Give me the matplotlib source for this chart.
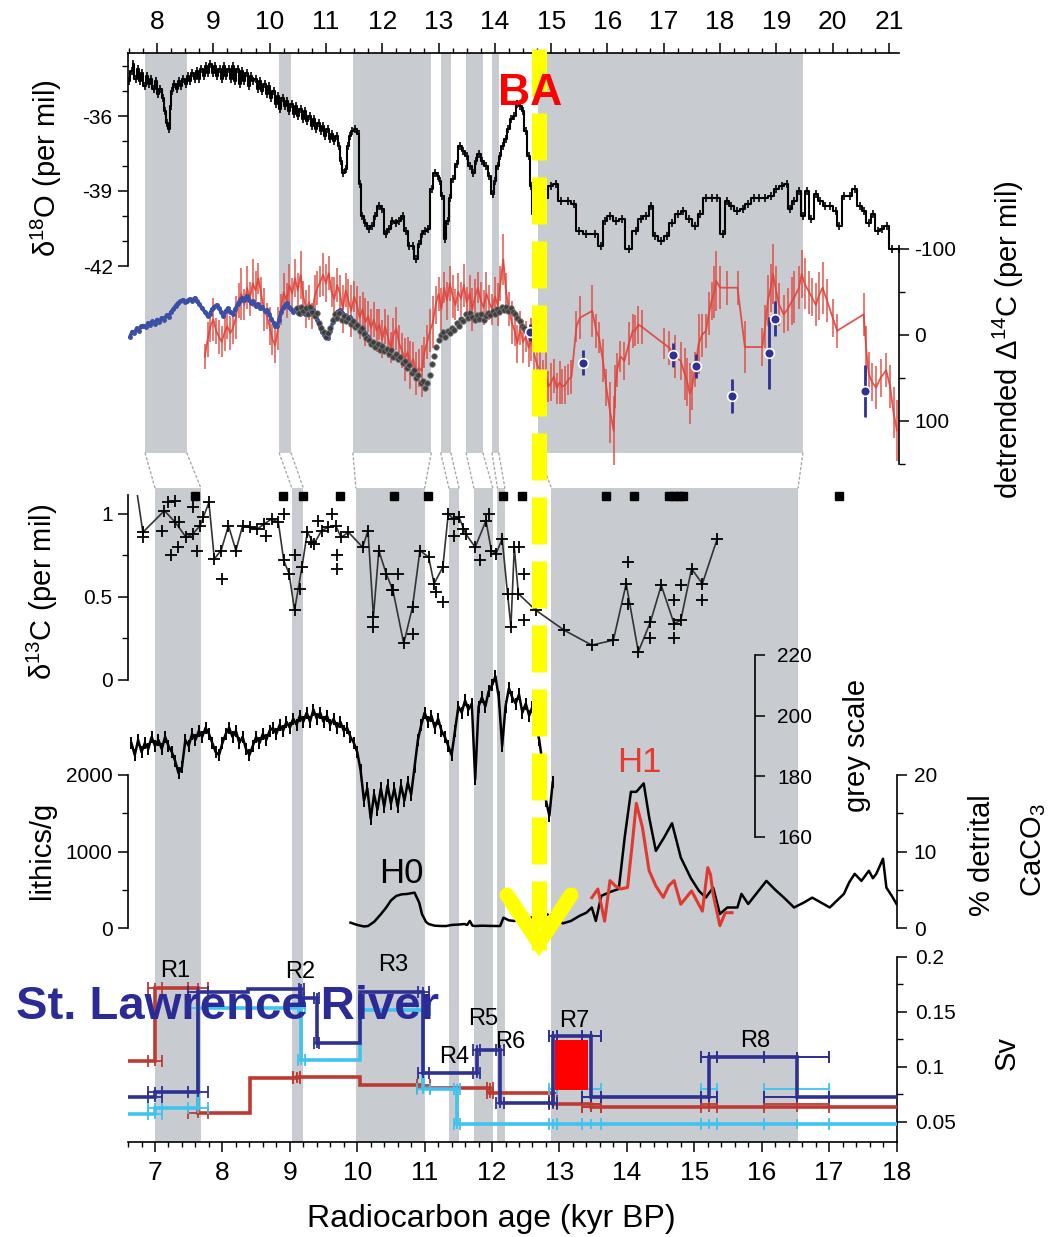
import numpy as np
import matplotlib
matplotlib.use("Agg")
import matplotlib.pyplot as plt
from matplotlib.lines import Line2D
from matplotlib.patches import Rectangle, ConnectionPatch
from matplotlib.ticker import FixedLocator, MultipleLocator, FixedFormatter

plt.rcParams["font.family"] = ["Liberation Sans", "DejaVu Sans"]
plt.rcParams["axes.unicode_minus"] = False
plt.rcParams["lines.scale_dashes"] = False
plt.rcParams["mathtext.default"] = "regular"

# ---------------------------------------------------------------- data
# shaded intervals: calendar age (upper panels) and radiocarbon age (lower panels)
cal_band_start = [7.79, 10.17, 11.48, 13.04, 13.49, 13.95, 14.77]
cal_band_end = [8.53, 10.38, 12.87, 13.22, 13.79, 14.07, 19.47]
rc_band_start = [7.00, 9.03, 9.98, 11.36, 11.73, 12.08, 12.88]
rc_band_end = [7.68, 9.20, 11.00, 11.51, 12.01, 12.19, 16.54]

cal_ticks = [8, 9, 10, 11, 12, 13, 14, 15, 16, 17, 18, 19, 20, 21]
rc_ticks = [7, 8, 9, 10, 11, 12, 13, 14, 15, 16, 17, 18]

# Greenland ice core d18O (per mil), calendar age (kyr)
d18o_age = [7.50, 7.55, 7.58, 7.62, 7.66, 7.70, 7.74, 7.78, 7.82, 7.86,
            7.90, 7.94, 7.98, 8.02, 8.06, 8.10, 8.14, 8.18, 8.21, 8.24,
            8.27, 8.31, 8.35, 8.39, 8.43, 8.47, 8.51, 8.55, 8.59, 8.63,
            8.67, 8.71, 8.75, 8.79, 8.83, 8.87, 8.91, 8.95, 8.99, 9.03,
            9.07, 9.11, 9.15, 9.19, 9.23, 9.27, 9.31, 9.35, 9.39, 9.43,
            9.47, 9.51, 9.55, 9.59, 9.63, 9.67, 9.71, 9.75, 9.79, 9.83,
            9.87, 9.91, 9.95, 9.99, 10.03, 10.07, 10.11, 10.15, 10.19, 10.23,
            10.27, 10.31, 10.35, 10.39, 10.43, 10.47, 10.51, 10.55, 10.59, 10.63,
            10.67, 10.71, 10.75, 10.79, 10.83, 10.87, 10.91, 10.95, 10.99, 11.03,
            11.07, 11.11, 11.15, 11.19, 11.23, 11.27, 11.31, 11.35, 11.39, 11.43,
            11.47, 11.52, 11.58, 11.60, 11.64, 11.70, 11.76, 11.82, 11.88, 11.94,
            12.00, 12.06, 12.12, 12.18, 12.24, 12.30, 12.36, 12.42, 12.48, 12.54,
            12.60, 12.66, 12.70, 12.76, 12.82, 12.88, 12.94, 12.99, 13.03, 13.07,
            13.12, 13.16, 13.20, 13.26, 13.32, 13.38, 13.44, 13.50, 13.56, 13.62,
            13.66, 13.72, 13.78, 13.84, 13.90, 13.96, 14.00, 14.05, 14.09, 14.14,
            14.19, 14.24, 14.29, 14.34, 14.40, 14.45, 14.50, 14.55, 14.60, 14.64,
            14.68, 14.75, 14.90, 15.00, 15.08, 15.18, 15.30, 15.40, 15.50, 15.62,
            15.78, 15.88, 15.95, 16.05, 16.15, 16.25, 16.38, 16.50, 16.60, 16.68,
            16.78, 16.85, 16.95, 17.05, 17.15, 17.25, 17.35, 17.45, 17.55, 17.65,
            17.75, 17.85, 17.95, 18.05, 18.12, 18.20, 18.30, 18.40, 18.50, 18.60,
            18.70, 18.80, 18.90, 19.00, 19.10, 19.18, 19.25, 19.32, 19.40, 19.48,
            19.55, 19.62, 19.70, 19.78, 19.86, 19.95, 20.05, 20.12, 20.20, 20.30,
            20.40, 20.48, 20.56, 20.64, 20.72, 20.80, 20.88, 20.96, 21.05, 21.17]
d18o = [-34.6, -34.2, -33.9, -34.5, -34.1, -34.6, -34.3, -34.8, -34.4, -34.7,
        -34.5, -34.9, -34.6, -35.1, -34.9, -35.3, -35.8, -36.3, -36.5, -35.6,
        -35.0, -34.7, -34.9, -34.6, -34.8, -34.5, -34.7, -34.4, -34.6, -34.3,
        -34.5, -34.2, -34.5, -34.1, -34.4, -34.0, -34.3, -33.9, -34.3, -34.0,
        -34.4, -34.1, -34.5, -34.0, -34.4, -34.1, -34.5, -34.0, -34.6, -34.1,
        -34.7, -34.2, -34.6, -34.3, -34.8, -34.4, -34.6, -34.5, -34.9, -34.6,
        -35.0, -34.7, -35.1, -34.8, -35.3, -35.0, -35.5, -35.2, -35.7, -35.3,
        -35.6, -35.4, -35.8, -35.5, -35.9, -35.6, -36.0, -35.7, -36.1, -35.8,
        -36.2, -36.0, -36.4, -36.1, -36.5, -36.3, -36.6, -36.4, -36.8, -36.5,
        -36.9, -36.7, -37.0, -36.8, -37.2, -37.8, -38.3, -38.1, -37.2, -36.8,
        -36.6, -36.5, -36.7, -38.7, -40.0, -40.3, -40.5, -40.4, -40.0, -39.6,
        -39.7, -40.7, -40.5, -40.2, -40.3, -40.2, -40.0, -40.6, -41.2, -41.2,
        -41.7, -41.1, -40.7, -40.6, -40.5, -38.9, -38.3, -38.4, -38.6, -39.2,
        -40.9, -40.2, -39.3, -38.5, -37.9, -37.2, -37.4, -37.6, -38.0, -38.3,
        -37.8, -37.5, -37.8, -38.0, -38.4, -39.1, -38.6, -38.0, -37.6, -37.2,
        -36.9, -36.5, -36.1, -36.0, -35.5, -35.6, -35.8, -36.6, -37.6, -38.8,
        -39.9, -39.8, -39.3, -38.8, -38.7, -39.4, -39.4, -39.5, -40.6, -40.7,
        -40.7, -41.2, -40.2, -40.0, -40.2, -40.1, -41.3, -40.6, -40.1, -40.0,
        -39.6, -40.8, -41.0, -40.8, -40.3, -39.9, -39.8, -40.1, -40.4, -39.9,
        -39.3, -39.3, -39.3, -40.7, -39.4, -39.6, -39.8, -39.7, -39.5, -39.3,
        -39.3, -39.3, -39.2, -38.9, -38.8, -38.7, -39.7, -39.4, -39.0, -40.0,
        -39.0, -40.1, -39.1, -39.4, -39.6, -39.6, -39.8, -40.4, -39.2, -39.2,
        -38.9, -39.6, -39.8, -40.3, -39.9, -40.6, -40.5, -40.4, -41.3, -41.3]

# detrended D14C (per mil): Cariaco / coral record (red) with 1-sigma errors
c14_age = [8.85, 8.90, 8.95, 9.00, 9.05, 9.10, 9.15, 9.20, 9.25, 9.30,
           9.35, 9.40, 9.45, 9.50, 9.55, 9.60, 9.65, 9.70, 9.75, 9.80,
           9.85, 9.90, 9.95, 10.00, 10.05, 10.10, 10.15, 10.20, 10.25, 10.30,
           10.35, 10.40, 10.45, 10.50, 10.55, 10.60, 10.65, 10.70, 10.75, 10.80,
           10.85, 10.90, 10.95, 11.00, 11.05, 11.10, 11.15, 11.20, 11.25, 11.30,
           11.35, 11.40, 11.45, 11.50, 11.55, 11.60, 11.65, 11.70, 11.75, 11.80,
           11.85, 11.90, 11.95, 12.00, 12.05, 12.10, 12.15, 12.20, 12.25, 12.30,
           12.35, 12.40, 12.45, 12.50, 12.55, 12.60, 12.65, 12.70, 12.75, 12.80,
           12.85, 12.90, 12.95, 13.00, 13.05, 13.10, 13.15, 13.20, 13.25, 13.30,
           13.35, 13.40, 13.45, 13.50, 13.55, 13.60, 13.65, 13.70, 13.75, 13.80,
           13.85, 13.90, 13.95, 14.00, 14.05, 14.10, 14.15, 14.20, 14.25, 14.30,
           14.35, 14.40, 14.45, 14.50, 14.55, 14.60, 14.65, 14.70, 14.75, 14.80,
           14.85, 14.90, 14.95, 15.00, 15.05, 15.10, 15.15, 15.20, 15.25, 15.30,
           15.36, 15.45, 15.51, 15.73, 15.80, 15.85, 15.92, 15.98, 16.05, 16.11,
           16.14, 16.17, 16.23, 16.30, 16.38, 16.45, 16.49, 16.55, 16.62, 17.00,
           17.10, 17.20, 17.30, 17.37, 17.42, 17.46, 17.50, 17.55, 17.62, 17.68,
           17.75, 17.80, 17.85, 17.90, 17.93, 18.00, 18.12, 18.31, 18.44, 18.75,
           18.80, 18.85, 18.90, 18.94, 19.00, 19.05, 19.13, 19.20, 19.28, 19.32,
           19.40, 19.45, 19.50, 19.58, 19.63, 19.70, 19.75, 19.82, 19.90, 20.00,
           20.08, 20.55, 20.60, 20.64, 20.70, 20.77, 20.85, 20.95, 21.02, 21.08,
           21.14]
c14 = [25, 5, -10, -18, -5, 2, 8, -3, -10, -2,
       -8, -20, -40, -48, -35, -55, -42, -60, -52, -66,
       -48, -30, -22, -10, 5, 12, -8, -30, -50, -40,
       -58, -48, -66, -52, -70, -45, -30, -38, -22, -45,
       -55, -62, -70, -60, -72, -50, -42, -58, -48, -30,
       -52, -40, -28, -45, -35, -20, -30, -15, -22, -8,
       -18, -5, -12, 5, -10, 2, 15, 0, -8, 10,
       18, 28, 20, 35, 28, 45, 38, 42, 20, 8,
       -5, -15, -35, -48, -30, -55, -40, -60, -45, -35,
       -50, -42, -58, -38, -48, -30, -45, -55, -40, -32,
       -48, -38, -30, -45, -35, -60, -88, -50, -30, -15,
       -5, 10, -8, 8, 2, 15, 5, 22, 35, 40,
       49, 45, 60, 55, 48, 62, 55, 60, 58, 52,
       49, -10, -20, -28, -5, 3, 30, 61, 90, 111,
       60, 41, 25, 30, 10, -5, -5, -12, -9, 10,
       15, 25, 30, 45, 55, 68, 62, 40, 10, 0,
       -5, -25, -40, -50, -63, -55, -55, -55, 14, 14,
       -10, -40, -55, -71, -50, -35, -24, -30, -40, -44,
       -55, -71, -60, -50, -44, -35, -45, -55, -40, -20,
       -5, -24, 20, 45, 55, 61, 50, 41, 60, 90,
       111]
c14_err = [15, 20, 18, 25, 15, 20, 18, 22, 15, 20,
           18, 25, 20, 30, 18, 25, 20, 28, 22, 18,
           20, 25, 15, 22, 18, 20, 25, 18, 22, 20,
           25, 18, 22, 20, 28, 18, 22, 20, 15, 25,
           20, 18, 25, 22, 20, 18, 25, 20, 22, 28,
           20, 25, 30, 18, 22, 25, 20, 28, 18, 22,
           20, 25, 18, 22, 20, 25, 18, 20, 25, 22,
           20, 25, 18, 28, 20, 25, 22, 30, 18, 20,
           25, 30, 22, 20, 25, 18, 22, 20, 25, 18,
           22, 20, 25, 18, 22, 25, 20, 18, 22, 20,
           25, 20, 18, 22, 25, 20, 30, 22, 20, 25,
           18, 22, 20, 25, 18, 22, 25, 20, 18, 22,
           20, 25, 18, 22, 20, 18, 25, 20, 22, 18,
           20, 18, 25, 30, 20, 18, 25, 22, 35, 40,
           25, 20, 18, 22, 25, 20, 18, 22, 20, 18,
           20, 25, 22, 30, 28, 35, 25, 20, 35, 25,
           20, 25, 22, 30, 35, 25, 20, 20, 30, 22,
           25, 30, 28, 35, 30, 25, 22, 25, 28, 30,
           25, 28, 30, 25, 22, 25, 28, 30, 25, 22,
           20, 25, 30, 25, 22, 25, 22, 20, 25, 30,
           35]

# tree-ring D14C (blue line)
tree_age = [7.52, 7.56, 7.60, 7.64, 7.68, 7.72, 7.76, 7.80, 7.84, 7.88,
            7.92, 7.96, 8.00, 8.04, 8.08, 8.12, 8.17, 8.21, 8.25, 8.29,
            8.33, 8.37, 8.41, 8.46, 8.50, 8.54, 8.58, 8.62, 8.67, 8.71,
            8.75, 8.80, 8.85, 8.90, 8.94, 8.98, 9.02, 9.06, 9.10, 9.14,
            9.18, 9.22, 9.26, 9.30, 9.35, 9.39, 9.43, 9.47, 9.51, 9.55,
            9.59, 9.63, 9.67, 9.71, 9.75, 9.79, 9.83, 9.87, 9.91, 9.95,
            9.99, 10.03, 10.07, 10.10, 10.13, 10.17, 10.21, 10.25, 10.30, 10.34,
            10.38, 10.42, 10.46, 10.50, 10.54, 10.58, 10.62, 10.66, 10.70, 10.74,
            10.77, 10.81, 10.85, 10.89, 10.93, 10.97, 11.01, 11.04, 11.08, 11.12,
            11.16, 11.20, 11.25, 11.29, 11.33, 11.38, 11.43, 11.47, 11.52, 11.57,
            11.62, 11.66, 11.70, 11.75, 11.81]
tree_c14 = [2, -4, -2, -8, -5, -10, -11, -9, -14, -12,
            -16, -13, -18, -15, -20, -18, -23, -21, -27, -30,
            -34, -37, -39, -41, -38, -40, -42, -40, -43, -39,
            -36, -31, -27, -22, -25, -30, -33, -35, -31, -27,
            -22, -28, -31, -27, -25, -30, -36, -40, -43, -41,
            -45, -41, -37, -39, -34, -36, -31, -33, -28, -29,
            -24, -19, -14, -11, -10, -18, -27, -33, -37, -33,
            -30, -27, -30, -26, -25, -28, -24, -30, -27, -31,
            -29, -24, -18, -10, -4, 0, 2, 4, -5, -15,
            -22, -27, -29, -26, -23, -21, -21, -17, -14, -10,
            -8, -6, -2, 2, 8]

# floating tree-ring / varve D14C (dark grey dots)
float_age = [10.48, 10.52, 10.56, 10.60, 10.64, 10.68, 10.72, 10.76, 10.80, 10.84,
             10.88, 10.92, 10.96, 11.00, 11.04, 11.08, 11.12, 11.16, 11.20, 11.24,
             11.28, 11.32, 11.36, 11.40, 11.44, 11.48, 11.52, 11.56, 11.60, 11.64,
             11.68, 11.72, 11.76, 11.80, 11.84, 11.88, 11.92, 11.96, 12.00, 12.04,
             12.08, 12.12, 12.16, 12.20, 12.24, 12.28, 12.32, 12.36, 12.40, 12.44,
             12.48, 12.52, 12.56, 12.60, 12.64, 12.68, 12.72, 12.76, 12.80, 12.84,
             12.88, 12.92, 12.96, 13.00, 13.04, 13.08, 13.12, 13.16, 13.20, 13.24,
             13.28, 13.32, 13.36, 13.40, 13.44, 13.48, 13.52, 13.56, 13.60, 13.64,
             13.68, 13.72, 13.76, 13.80, 13.84, 13.88, 13.92, 13.96, 14.00, 14.04,
             14.08, 14.12, 14.16, 14.20, 14.24, 14.28, 14.32, 14.36, 14.40, 14.44,
             14.48, 14.52, 14.56, 14.60, 14.64]
float_c14 = [-31, -26, -33, -28, -31, -25, -32, -27, -22, -26,
             -14, -8, -3, 2, -2, -8, -18, -24, -20, -26,
             -18, -22, -16, -20, -13, -16, -9, -12, -5, -8,
             -1, 3, 6, 10, 8, 14, 11, 17, 13, 19,
             16, 22, 18, 25, 22, 28, 26, 33, 30, 38,
             35, 44, 41, 50, 47, 56, 53, 62, 56, 46,
             34, 24, 14, 6, 0, -4, 2, -5, -2, -8,
             -6, -14, -11, -19, -16, -24, -20, -26, -21, -18,
             -23, -19, -24, -17, -22, -26, -23, -28, -25, -30,
             -27, -32, -29, -33, -28, -31, -27, -24, -20, -16,
             -11, -8, -5, -3, -1]

# U/Th-dated coral D14C (blue dots)
coral_age = [14.62, 15.56, 17.16, 17.57, 18.21, 18.87, 18.97, 20.58]
coral_c14 = [-3, 32, 23, 36, 71, 21, -19, 65]
coral_err = [10, 14, 14, 14, 20, 42, 20, 30]

# benthic d13C (per mil), radiocarbon age
d13c_age = [6.74, 6.82, 7.14, 7.30, 7.46, 7.56, 7.67, 7.80, 7.88, 7.98,
            8.09, 8.20, 8.30, 8.41, 8.52, 8.62, 8.73, 8.83, 8.91, 8.99,
            9.07, 9.18, 9.26, 9.36, 9.47, 9.57, 9.68, 9.76, 9.87, 10.08,
            10.16, 10.24, 10.32, 10.43, 10.53, 10.69, 10.82, 10.93, 11.06, 11.14,
            11.27, 11.35, 11.43, 11.51, 11.61, 11.75, 11.91, 11.99, 12.06, 12.15,
            12.23, 12.28, 12.33, 12.39, 12.65, 13.07, 13.48, 13.80, 13.99, 14.17,
            14.35, 14.51, 14.70, 14.80, 14.96, 15.12, 15.34]
d13c = [1.11, 0.89, 1.02, 0.95, 0.86, 0.88, 0.93, 1.07, 0.73, 0.78,
        0.93, 0.78, 0.93, 0.92, 0.91, 0.94, 0.97, 0.95, 0.72, 0.64,
        0.42, 0.68, 0.89, 0.82, 0.90, 0.92, 0.93, 0.86, 0.89, 0.80,
        0.90, 0.38, 0.78, 0.64, 0.54, 0.22, 0.44, 0.78, 0.74, 0.58,
        0.68, 1.00, 0.97, 0.98, 0.88, 0.80, 0.96, 0.78, 0.76, 0.85,
        0.52, 0.32, 0.80, 0.52, 0.42, 0.30, 0.21, 0.24, 0.58, 0.17,
        0.35, 0.57, 0.34, 0.36, 0.67, 0.58, 0.85]
d13c_rep_age = [6.82, 7.11, 7.19, 7.24, 7.30, 7.34, 7.36, 7.56, 7.63, 7.71,
                8.00, 8.64, 8.91, 9.07, 9.15, 9.31, 9.42, 9.62, 9.70, 9.70,
                10.24, 10.51, 10.61, 10.82, 11.17, 11.27, 11.44, 11.57, 11.82, 11.95,
                12.40, 12.47, 12.47, 14.01, 14.01, 14.35, 14.70, 14.70, 14.80, 15.12]
d13c_rep = [0.86, 0.90, 1.07, 0.75, 1.08, 0.80, 0.95, 1.04, 0.78, 0.98,
            0.61, 0.87, 1.00, 0.75, 0.55, 0.83, 0.96, 1.00, 0.67, 0.75,
            0.32, 0.54, 0.64, 0.28, 0.53, 0.47, 0.87, 0.91, 0.72, 1.00,
            0.80, 0.64, 0.36, 0.71, 0.46, 0.25, 0.25, 0.48, 0.57, 0.48]

# radiocarbon dates (black squares)
date_ages = [7.60, 8.90, 9.20, 9.74, 10.55, 11.05, 12.16, 12.45, 13.69, 14.10,
             14.62, 14.70, 14.78, 14.84, 17.14]

# sediment grey scale
gs_age = [6.65, 6.70, 6.75, 6.80, 6.85, 6.90, 6.95, 7.00, 7.05, 7.10,
          7.15, 7.20, 7.25, 7.30, 7.35, 7.40, 7.45, 7.50, 7.55, 7.60,
          7.65, 7.70, 7.75, 7.80, 7.85, 7.90, 7.95, 8.00, 8.05, 8.10,
          8.15, 8.20, 8.25, 8.30, 8.35, 8.40, 8.45, 8.50, 8.55, 8.60,
          8.65, 8.70, 8.75, 8.80, 8.85, 8.90, 8.95, 9.00, 9.05, 9.10,
          9.15, 9.20, 9.25, 9.30, 9.35, 9.40, 9.45, 9.50, 9.55, 9.60,
          9.65, 9.70, 9.75, 9.80, 9.85, 9.90, 9.95, 10.00, 10.05, 10.10,
          10.15, 10.20, 10.25, 10.30, 10.35, 10.40, 10.45, 10.50, 10.55, 10.60,
          10.65, 10.70, 10.75, 10.80, 10.85, 10.90, 10.95, 11.00, 11.05, 11.10,
          11.15, 11.20, 11.25, 11.30, 11.35, 11.40, 11.45, 11.50, 11.55, 11.60,
          11.65, 11.70, 11.75, 11.80, 11.85, 11.90, 11.95, 12.00, 12.05, 12.10,
          12.15, 12.20, 12.25, 12.30, 12.35, 12.40, 12.45, 12.50, 12.55, 12.60,
          12.65, 12.70, 12.75, 12.80, 12.85, 12.90]
gs = [191, 187, 192, 188, 191, 189, 193, 190, 192, 189,
      193, 190, 188, 185, 181, 183, 192, 190, 194, 192,
      195, 193, 196, 194, 191, 188, 187, 191, 194, 196,
      193, 195, 191, 193, 189, 187, 190, 193, 191, 194,
      192, 195, 196, 194, 197, 195, 198, 196, 199, 197,
      200, 198, 201, 198, 202, 199, 201, 198, 200, 197,
      199, 196, 198, 195, 196, 193, 191, 188, 182, 172,
      176, 166, 174, 169, 176, 170, 177, 171, 176, 170,
      177, 172, 178, 174, 183, 192, 197, 201, 198, 200,
      196, 199, 195, 193, 190, 187, 195, 203, 201, 205,
      202, 204, 179, 203, 206, 203, 208, 210, 213, 206,
      190, 203, 209, 206, 204, 207, 201, 204, 200, 203,
      197, 192, 184, 172, 167, 178]

# ice-rafted lithics (grains/g)
lith_age = [9.90, 10.00, 10.10, 10.16, 10.25, 10.35, 10.43, 10.50, 10.58, 10.66,
            10.74, 10.85, 10.92, 10.96, 11.02, 11.06, 11.15, 11.25, 11.32, 11.40,
            11.50, 11.59, 11.63, 11.67, 11.71, 11.75, 11.85, 11.95, 12.05, 12.12,
            12.17, 12.25, 12.33, 12.45, 12.60, 12.80, 12.95, 13.05, 13.17, 13.30,
            13.40, 13.48, 13.54, 13.62, 13.75, 13.88, 13.97, 14.06, 14.14, 14.25,
            14.33, 14.43, 14.55, 14.67, 14.80, 14.95, 15.07, 15.17, 15.28, 15.38,
            15.49, 15.64, 15.70, 15.80, 16.07, 16.20, 16.33, 16.48, 16.62, 16.75,
            17.01, 17.22, 17.30, 17.38, 17.48, 17.59, 17.65, 17.70, 17.80, 17.85,
            17.93, 18.00]
lith = [70, 40, 20, 26, 80, 180, 268, 360, 420, 440,
        445, 462, 330, 183, 80, 52, 30, 26, 26, 40,
        45, 52, 40, 92, 30, 26, 30, 28, 26, 26,
        135, 100, 92, 110, 140, 183, 130, 60, 92, 160,
        200, 268, 92, 420, 470, 511, 1200, 1780, 1780, 1890,
        1450, 1008, 1180, 1370, 921, 650, 485, 397, 528, 183,
        268, 268, 446, 314, 616, 500, 397, 268, 330, 397,
        268, 446, 600, 708, 616, 748, 650, 708, 905, 528,
        420, 314]

# detrital carbonate (%)
det_age = [13.48, 13.57, 13.67, 13.75, 13.83, 13.91, 14.01, 14.08, 14.14, 14.23,
           14.33, 14.43, 14.54, 14.62, 14.70, 14.80, 14.96, 15.12, 15.20, 15.24,
           15.28, 15.38, 15.46, 15.56]
det = [3.97, 5.1, 0.9, 6.2, 5.5, 5.1, 5.3, 11.0, 16.3, 13.2,
       7.5, 5.5, 4.0, 5.5, 6.2, 3.1, 4.85, 2.2, 7.9, 7.0,
       4.4, 0.3, 2.0, 2.0]

# St. Lawrence routing scenarios (Sv): step edges, levels, edge age uncertainties
sv_navy_edges = [6.55, 7.0, 7.64, 8.38, 9.17, 9.4, 10.04, 10.98, 11.77, 12.12,
                 12.9, 13.47, 15.22, 16.52, 18.0]
sv_navy = [0.0728, 0.0773, 0.1684, 0.1706, 0.1624, 0.1214, 0.1684, 0.094, 0.1153,
           0.067, 0.1283, 0.0728, 0.1092, 0.0728]
sv_navy_err = [0.1, 0.15, 0.0, 0.04, 0.04, 0.0, 0.08, 0.05, 0.06, 0.06, 0.14, 0.12, 0.48]

sv_cyan_edges = [6.55, 7.0, 7.64, 9.17, 10.04, 10.98, 11.48, 18.0]
sv_cyan = [0.057, 0.0622, 0.1533, 0.1062, 0.1517, 0.080, 0.048]
sv_cyan_err = [0.1, 0.15, 0.05, 0.0, 0.1, 0.05]

sv_red_edges = [6.55, 7.0, 7.64, 8.41, 9.1, 10.04, 10.98, 11.97, 12.9, 13.47, 18.0]
sv_red = [0.1056, 0.1715, 0.0577, 0.0895, 0.091, 0.0834, 0.0804, 0.0759, 0.0658, 0.0637]
sv_red_err = [0.1, 0.15, 0.0, 0.05, 0.0, 0.1, 0.05, 0.06, 0.14]

sv_shared_ages = [12.9, 13.47, 15.22, 16.52]
sv_shared_err = [0.06, 0.14, 0.12, 0.48]

r7_box = [12.93, 13.43, 0.079, 0.1244]

route_labels = ["R1", "R2", "R3", "R4", "R5", "R6", "R7", "R8"]
route_label_age = [7.30, 9.15, 10.53, 11.44, 11.87, 12.27, 13.22, 15.90]
route_label_sv = [0.1818, 0.1809, 0.1870, 0.1035, 0.1381, 0.1171, 0.1362, 0.1180]

for a, b in [(d18o_age, d18o), (c14_age, c14), (c14_age, c14_err), (tree_age, tree_c14),
             (float_age, float_c14), (d13c_age, d13c), (d13c_rep_age, d13c_rep),
             (gs_age, gs), (lith_age, lith), (det_age, det)]:
    assert len(a) == len(b), (len(a), len(b))

# ---------------------------------------------------------------- styles
BAND = "#c8cbd0"
RED = "#e0443a"
TREE_BLUE = "#3b4fa5"
NAVY = "#2e3192"
CYAN = "#3ec4ef"
SV_RED = "#bd3a33"
YELLOW = "#ffff00"
TICK_BIG = 19
TICK_SMALL = 15
LABEL = 21

W, H = 1056, 1237
fig = plt.figure(figsize=(W / 100, H / 100), dpi=100)


def px_axes(left, top, right, bottom):
    ax = fig.add_axes([left / W, 1 - bottom / H, (right - left) / W, (bottom - top) / H])
    ax.patch.set_visible(False)
    return ax


def px_range(v1, p1, v2, p2, pa, pb):
    k = (v2 - v1) / (p2 - p1)
    return v1 + (pa - p1) * k, v1 + (pb - p1) * k


def only_spine(ax, name):
    for s, sp in ax.spines.items():
        sp.set_visible(s == name)
        sp.set_linewidth(1.2)


def yticks(ax, major, minor, labels=None, side="left", pad=4):
    ax.yaxis.set_major_locator(FixedLocator(major))
    ax.yaxis.set_minor_locator(FixedLocator(minor))
    if labels is not None:
        ax.yaxis.set_major_formatter(FixedFormatter(labels))
    if side == "right":
        ax.yaxis.tick_right()
    else:
        ax.yaxis.tick_left()
    ax.tick_params(axis="y", which="major", direction="out", length=7, width=1.1,
                   labelsize=TICK_SMALL, pad=pad)
    ax.tick_params(axis="y", which="minor", direction="out", length=4, width=1.0)


# ------------------------------------------------ calendar-age panels
CT, CB, CL, CR = 53, 465, 128, 899
SHADE_BOTTOM = 453
ax_cal = px_axes(CL, CT, CR, CB)
ax_cal.set_xlim(*px_range(8, 157, 21, 889, CL, CR))
ax_cal.set_ylim(*px_range(-36, 116, -42, 266, CB, CT))
shade_frac = (CB - SHADE_BOTTOM) / (CB - CT)
for a, b in zip(cal_band_start, cal_band_end):
    ax_cal.axvspan(a, b, ymin=shade_frac, ymax=1, color=BAND, lw=0, zorder=0)

for s in ("right", "bottom"):
    ax_cal.spines[s].set_visible(False)
for s in ("top", "left"):
    ax_cal.spines[s].set_linewidth(1.2)
ax_cal.spines["left"].set_bounds(-42, ax_cal.get_ylim()[1])
ax_cal.xaxis.set_ticks_position("top")
ax_cal.xaxis.set_major_locator(FixedLocator(cal_ticks))
ax_cal.xaxis.set_minor_locator(MultipleLocator(0.25))
ax_cal.tick_params(axis="x", which="major", direction="out", length=7, width=1.1,
                   labelsize=TICK_BIG, pad=7)
ax_cal.tick_params(axis="x", which="minor", direction="out", length=3.5, width=1.0)
yticks(ax_cal, [-42, -39, -36], [-41, -40, -38, -37, -35, -34])

# step record with a short sample tick on every value
ax_cal.plot(d18o_age, d18o, drawstyle="steps-mid", color="black", lw=1.5, zorder=3)
ax_cal.plot(d18o_age, d18o, "|", ms=6, mew=1.2, color="black", zorder=3)

ax_c14 = ax_cal.twinx()
ax_c14.set_ylim(*px_range(0, 335, 100, 421, CB, CT))
only_spine(ax_c14, "right")
ax_c14.spines["right"].set_bounds(-100, 150)
yticks(ax_c14, [-100, 0, 100], [-50, 50, 150], side="right")

ax_c14.errorbar(c14_age, c14, yerr=c14_err, color=RED, lw=1.3, elinewidth=1.1,
                capsize=0, alpha=0.9, zorder=2)
ax_c14.plot(tree_age, tree_c14, color=TREE_BLUE, lw=2.6, marker="o", ms=2.5, zorder=3)
ax_c14.plot(float_age, float_c14, "o", ms=4, color="#3a3a3a", mec="#777777", mew=0.6,
            alpha=0.95, zorder=4)
ax_c14.errorbar(coral_age, coral_c14, yerr=coral_err, fmt="o", ms=7, mfc=NAVY,
                mec="white", mew=1.2, ecolor=NAVY, elinewidth=2, capsize=0, zorder=5)

# ------------------------------------------------ radiocarbon-age panels
LT, LB, LL, LR = 488, 1142, 128, 897
ax_low = px_axes(LL, LT, LR, LB)
ax_low.set_xlim(*px_range(7, 155, 18, 896.5, LL, LR))
ax_low.set_ylim(0, 1)
for a, b in zip(rc_band_start, rc_band_end):
    ax_low.axvspan(a, b, color=BAND, lw=0, zorder=0)
only_spine(ax_low, "bottom")
ax_low.set_yticks([])
ax_low.xaxis.set_major_locator(FixedLocator(rc_ticks))
ax_low.xaxis.set_minor_locator(MultipleLocator(0.2))
ax_low.tick_params(axis="x", which="major", direction="out", length=7, width=1.1,
                   labelsize=TICK_BIG, pad=7)
ax_low.tick_params(axis="x", which="minor", direction="out", length=3.5, width=1.0)

sq_frac = (LB - 496) / (LB - LT)
ax_low.plot(date_ages, [sq_frac] * len(date_ages), "s", ms=6, color="black",
            transform=ax_low.get_xaxis_transform(), zorder=3)

# dotted links between calendar and radiocarbon shading
for cs, ce, rs, re in zip(cal_band_start, cal_band_end, rc_band_start, rc_band_end):
    for c_edge, r_edge in ((cs, rs), (ce, re)):
        con = ConnectionPatch(xyA=(c_edge, shade_frac), coordsA=ax_cal.get_xaxis_transform(),
                              xyB=(r_edge, 1.0), coordsB=ax_low.get_xaxis_transform(),
                              color="#a8a8a8", lw=1.0, linestyle=(0, (1.5, 2.0)))
        fig.add_artist(con)


def overlay():
    ax = px_axes(LL, LT, LR, LB)
    ax.set_xlim(ax_low.get_xlim())
    ax.set_xticks([])
    return ax


# d13C
ax_d13 = overlay()
ax_d13.set_ylim(*px_range(1, 514, 0, 680, LB, LT))
only_spine(ax_d13, "left")
ax_d13.spines["left"].set_bounds(0, px_range(1, 514, 0, 680, 495, 495)[0])
yticks(ax_d13, [0, 0.5, 1], [0.25, 0.75], ["0", "0.5", "1"])
ax_d13.plot(d13c_age, d13c, color="#333333", lw=1.2, zorder=3)
ax_d13.plot(d13c_age[1:], d13c[1:], "+", ms=9, mew=1.3, color="black", zorder=4)
ax_d13.plot(d13c_rep_age, d13c_rep, "+", ms=9, mew=1.3, color="black", zorder=4)

# grey scale
ax_gs = overlay()
ax_gs.set_ylim(*px_range(220, 655, 160, 837, LB, LT))
only_spine(ax_gs, "right")
ax_gs.spines["right"].set_position(("axes", (755 - LL) / (LR - LL)))
ax_gs.spines["right"].set_bounds(160, 220)
yticks(ax_gs, [160, 180, 200, 220], [], side="right", pad=9)
ax_gs.plot(gs_age, gs, color="black", lw=1.8, zorder=3)
ax_gs.plot(gs_age, gs, "|", ms=8, mew=1.4, color="black", zorder=3)

# lithics
ax_lith = overlay()
ax_lith.set_ylim(*px_range(2000, 775, 0, 928, LB, LT))
only_spine(ax_lith, "left")
ax_lith.spines["left"].set_bounds(0, 2000)
yticks(ax_lith, [0, 1000, 2000], [500, 1500])
ax_lith.plot(lith_age, lith, color="black", lw=1.8, zorder=3)
ax_lith.text(10.66, px_range(2000, 775, 0, 928, 883, 883)[0], "H0", fontsize=25,
             ha="center", va="baseline")

# detrital carbonate
ax_det = overlay()
ax_det.set_ylim(*px_range(20, 775, 0, 928, LB, LT))
only_spine(ax_det, "right")
ax_det.spines["right"].set_bounds(0, 20)
yticks(ax_det, [0, 10, 20], [5, 15], side="right", pad=5)
ax_det.plot(det_age, det, color="#e03a30", lw=2.2, zorder=3)
ax_det.text(14.19, px_range(20, 775, 0, 928, 772, 772)[0], "H1", fontsize=25,
            color="#e83a30", ha="center", va="baseline")

# meltwater routing (Sv)
ax_sv = overlay()
ax_sv.set_ylim(*px_range(0.2, 957, 0.05, 1121.7, LB, LT))
only_spine(ax_sv, "right")
ax_sv.spines["right"].set_bounds(ax_sv.get_ylim()[0], 0.2)
yticks(ax_sv, [0.05, 0.1, 0.15, 0.2], [0.075, 0.125, 0.175],
       ["0.05", "0.1", "0.15", "0.2"], side="right", pad=6)


def draw_route(edges, levels, errs, color, z):
    ax_sv.stairs(levels, edges, baseline=None, color=color, lw=2.6, zorder=z)
    for i, (e, err) in enumerate(zip(edges[1:-1], errs)):
        if err <= 0:
            continue
        ys = [levels[i], levels[i + 1]]
        ax_sv.errorbar([e, e], ys, xerr=err, fmt="|", ms=7, mew=1.3, color=color,
                       ecolor=color, elinewidth=1.3, capsize=4, capthick=1.3, zorder=z)
    for e, err in zip(sv_shared_ages, sv_shared_err):
        k = int(np.searchsorted(edges, e, side="right")) - 1
        ys = [levels[min(k, len(levels) - 1)], levels[max(k - 1, 0)]]
        ax_sv.errorbar([e, e], ys, xerr=err, fmt="|", ms=7, mew=1.3, color=color,
                       ecolor=color, elinewidth=1.3, capsize=4, capthick=1.3, zorder=z)


draw_route(sv_red_edges, sv_red, sv_red_err, SV_RED, 3)
draw_route(sv_cyan_edges, sv_cyan, sv_cyan_err, CYAN, 4)
draw_route(sv_navy_edges, sv_navy, sv_navy_err, NAVY, 5)
ax_sv.add_patch(Rectangle((r7_box[0], r7_box[2]), r7_box[1] - r7_box[0],
                          r7_box[3] - r7_box[2], facecolor="#ff0000",
                          edgecolor="none", zorder=6))
for lab, a, v in zip(route_labels, route_label_age, route_label_sv):
    ax_sv.text(a, v, lab, fontsize=17, ha="center", va="baseline", zorder=7)

# ------------------------------------------------ axis titles
def ftext(x, y, s, **kw):
    return fig.text(x / W, 1 - y / H, s, **kw)


ftext(46, 168, r"δ$^{18}$O (per mil)", rotation=90, ha="center", va="center", fontsize=LABEL)
ftext(1008, 340, r"detrended Δ$^{14}$C (per mil)", rotation=90, ha="center",
      va="center", fontsize=LABEL)
ftext(42, 592, r"δ$^{13}$C (per mil)", rotation=90, ha="center", va="center", fontsize=LABEL)
ftext(42, 850, "lithics/g", rotation=90, ha="center", va="center", fontsize=LABEL)
ftext(857, 745, "grey scale", rotation=90, ha="center", va="center", fontsize=LABEL)
ftext(982, 855, "% detrital", rotation=90, ha="center", va="center", fontsize=LABEL)
ftext(1034, 850, r"CaCO$_{3}$", rotation=90, ha="center", va="center", fontsize=LABEL)
ftext(1007, 1053, "Sv", rotation=90, ha="center", va="center", fontsize=LABEL)
ftext(491, 1227, "Radiocarbon age (kyr BP)", ha="center", va="baseline", fontsize=23)

# ------------------------------------------------ Bolling-Allerod marker
XA = 539
shaft = Line2D([XA / W, XA / W], [1 - 49 / H, 1 - 950 / H], transform=fig.transFigure,
               color=YELLOW, lw=15 * 0.72, dashes=(47 * 0.72, 17 * 0.72),
               dash_capstyle="butt", zorder=5)
fig.add_artist(shaft)
head = Line2D([507 / W, XA / W, 571 / W], [1 - 895 / H, 1 - 943 / H, 1 - 895 / H],
              transform=fig.transFigure, color=YELLOW, lw=15 * 0.72,
              solid_joinstyle="miter", solid_capstyle="round", zorder=5)
fig.add_artist(head)

ftext(530, 105, "BA", color="#ff0000", fontsize=32, fontweight="bold",
      ha="center", va="baseline", zorder=6)
ftext(16, 1019, "St. Lawrence River", color="#2b2b97", fontsize=34, fontweight="bold",
      ha="left", va="baseline", zorder=6)

fig.savefig("out.png", dpi=100)
